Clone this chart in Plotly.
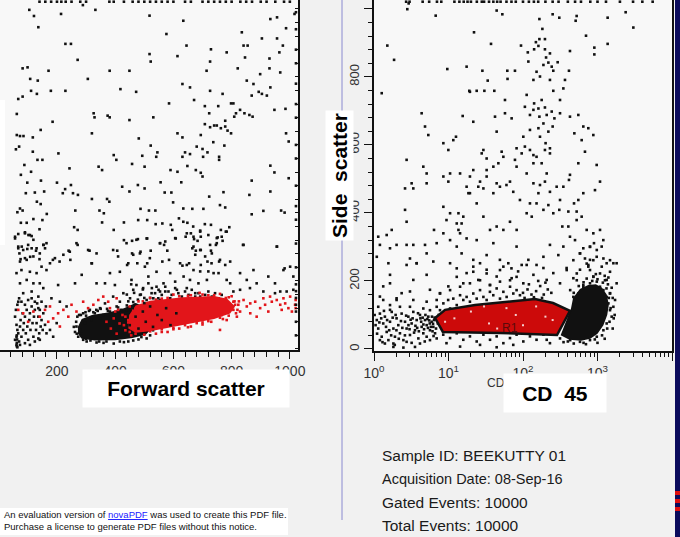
import plotly.graph_objects as go

# ---------------- left panel : forward scatter (x) vs side scatter (y) ----------------
# sparse events, upper part of the plot (FSC, SSC)
left_upper = [(105,997),(121,979),(214,985),(332,997),(289,1011),(518,980),(634,965),(933,970),(956,975),(1016,985),(987,943),(136,946),(576,926),(835,931),(904,913),(956,913),(229,897),(248,897),(645,892),(729,881),(841,892),(855,892),(976,892),(964,872),(518,867),(522,845),(783,872),(271,850),(614,861),(726,845),(846,857),(930,854),(82,825),(99,828),(171,818),(381,818),(449,818),(714,818),(821,825),(898,808),(930,825),(967,813),(108,794),(134,789),(306,794),(631,779),(657,769),(852,789),(875,779),(933,769),(904,750),(893,756),(921,745),(869,745),(67,735),(82,742),(111,759),(131,750),(179,759),(229,759),(418,764),(472,756),(585,722),(671,732),(726,759),(769,750),(798,722),(806,722),(708,714),(723,693),(754,714),(829,703),(844,693),(861,688),(872,683),(947,703),(985,706),(809,683),(815,693),(62,691),(326,693),(329,681),(374,686),(381,681),(531,681),(449,673),(185,668),(778,671),(708,661),(726,652),(740,657),(749,657),(763,649),(778,654),(786,642),(798,634),(694,629),(614,634),(631,622),(62,629),(73,626),(85,626),(117,622),(144,644),(320,634),(481,619),(987,634),(996,610),(70,595),(59,587),(117,580),(133,556),(150,556),(205,575),(395,570),(404,556),(522,598),(545,578),(541,565),(493,568),(458,544),(501,536),(631,565),(640,578),(657,573),(680,595),(700,588),(717,578),(737,608),(775,598),(757,565),(757,556),(702,565),(88,541),(76,512),(111,521),(243,531),(343,536),(355,526),(590,526),(614,521),(648,538),(677,526),(694,518),(700,507),(869,495),(933,539),(947,519),(996,502),(98,489),(145,495),(200,489),(248,482),(228,470),(255,458),(220,458),(93,458),(124,460),(156,463),(272,453),(320,441),(372,441),(380,433),(424,477),(449,463),(478,482),(501,472),(556,490),(570,460),(593,460),(627,490),(723,448),(772,461),(861,453),(933,463),(73,413),(82,407),(64,402),(131,433),(144,426),(165,397),(263,407),(346,407),(361,399),(487,412),(516,407),(538,407),(599,431),(634,413),(665,412),(703,412),(760,423),(778,416),(869,396),(909,406),(970,407),(982,401),(76,371),(96,371),(119,382),(150,379),(259,358),(271,350),(355,372),(395,350),(430,372),(479,379),(510,379),(539,367),(562,369),(591,365),(596,350),(619,384),(634,374),(648,371),(668,360),(692,348),(708,367),(729,365),(763,350),(780,345),(792,358),(56,325),(67,338),(90,343),(102,335),(113,332),(140,352),(430,320),(458,318),(478,323),(510,325),(554,311),(568,306),(608,325),(642,330),(660,340),(671,323),(683,318),(694,330),(752,328),(769,318),(839,306),(956,301),(67,296),(79,301),(98,294),(113,296),(128,289),(154,306),(159,296),(240,289),(271,306),(312,289),(407,289),(458,281),(487,286),(522,289),(579,289),(665,296),(677,289),(694,291),(729,289),(746,306),(71,281),(75,264),(90,267),(108,271),(140,264),(186,262),(209,257),(246,262),(320,252),(441,247),(476,252),(510,252),(562,257),(585,262),(631,245),(654,252),(694,247),(717,257),(731,252),(757,257),(982,237)]

# sparse events, lower part
left_lower = [(56,330),(90,340),(107,335),(119,321),(67,301),(84,291),(101,306),(130,296),(153,306),(164,311),(141,281),(119,272),(96,262),(73,257),(61,223),(78,232),(107,227),(130,223),(147,242),(164,232),(176,252),(73,193),(96,203),(119,193),(141,193),(153,179),(84,164),(113,169),(136,154),(67,139),(193,267),(222,277),(267,311),(244,286),(307,291),(336,281),(319,252),(285,218),(262,193),(336,193),(204,188),(210,139),(233,125),(181,149),(393,291),(410,272),(382,223),(416,227),(445,252),(439,311),(473,321),(508,325),(462,277),(485,281),(519,267),(502,242),(542,227),(456,203),(514,213),(365,193),(399,188),
              (554,311),(572,316),(606,326),(646,340),(669,330),(692,345),(720,335),(749,326),(766,330),(783,345),(669,301),(692,291),(726,306),(749,311),(675,277),(709,272),(732,281),(760,262),(795,257),(778,247),(623,252),(646,247),(669,232),(692,228),(720,228),(738,223),(755,223),(635,213),(657,203),(686,193),(715,203),(589,223),(566,193),(606,198),(783,203),(795,193),(829,223),(841,306),(875,232),(852,203),(886,193),(926,213),(949,193),(955,301),(978,232),(1001,242),(1012,213),(949,164),(967,169),(989,169),(1012,174),(909,169),(863,179),(829,174),(806,169),(572,169),(612,174),(646,179),(675,164)]

# column of small events at low forward scatter
left_column = [(56,27),(61,36),(61,12),(64,56),(67,46),(70,22),(73,66),(75,85),(78,36),(82,105),(84,56),(86,76),(90,95),(93,46),(96,115),(98,66),(101,27),(105,85),(107,105),(109,56),(113,125),(116,76),(119,36),(121,95),(124,115),(128,56),(130,76),(132,134),(136,95),(139,46),(141,115),(144,66),(147,85),(151,56),(153,105),(159,71),(162,125),(56,95),(59,115),(64,130),(70,149),(78,139),(90,130),(101,144),(113,149),(124,139),(136,120),(147,139),(61,71),(73,12),(90,17),(107,12),(124,22),(136,31),(164,46),(176,56),(187,36),(199,76),(141,27),
               (62,8),(62,18),(63,28),(62,40),(64,5)]

# black events just above / around the dense lymphocyte cloud
left_fringe = [(526,179),(537,164),(549,174),(560,159),(572,183),(583,169),(594,159),(606,179),(617,164),(629,154),(640,169),(652,159),(663,174),(675,154),(686,164),(697,149),(709,159),(720,169),(732,154),(743,164),(755,149),(766,159),(778,144),(531,149),(554,144),(589,149),(623,144),(657,146),(692,154),(726,144),
               (348,120),(365,134),(382,110),(393,154),(405,125),(416,139),(428,164),(439,115),(451,149),(462,174),(468,130),(473,188),(485,159),(491,115),(496,179),(508,144),(514,193),(525,164),(531,125),(542,183),(548,149),(554,169),(456,100),(422,100),(388,95),(359,100),(330,105),(313,115),
               (279,56),(273,36),(290,27),(285,46),(302,22),(336,19),(370,22),(416,22),(462,25),(508,31),(267,66),(296,76),(319,85),(348,90),
               (262,50),(258,65),(270,95),(290,105),(310,112),(350,118),(300,30),(360,18),(430,20),(490,35),(530,55),(545,85),(548,110),(520,150),(495,175),(455,190),(440,160),
               (266,80),(268,45),(282,100),(300,98),(325,108),(340,112),(375,112),(395,105),(420,115),(445,140),(465,165),(488,160),(505,130),(535,95),(538,68),(520,40),(480,28),(445,22),(395,16),(345,22),(315,25),(285,38),
               (478,145),(462,138),(500,150),(512,120),(440,128),(410,122),(372,118),(335,115),(298,108),(276,100)]

# dense black core (outline of the cloud)
blob_fsc = [272, 285, 330, 400, 460, 505, 525, 520, 500, 470, 430, 380, 320, 285, 272]
blob_ssc = [45, 30, 25, 26, 32, 42, 60, 95, 125, 135, 120, 108, 100, 88, 65]

# dense red core (gated events)
red_fsc = [445, 470, 520, 633, 740, 795, 812, 785, 740, 633, 520, 470, 448]
red_ssc = [60, 48, 52, 70, 88, 104, 125, 148, 156, 152, 142, 128, 100]

# red gated events spread around the core
left_red = [(159,115),(176,125),(187,90),(204,105),(222,115),(239,95),(250,130),(267,110),(290,139),(307,120),(325,130),(342,144),(210,66),(170,80),(141,95),(119,110),(84,105),(67,115),(101,80),(359,154),(376,139),(405,149),(410,115),(382,120),
            (385,60),(395,90),(405,45),(415,75),(425,100),(435,55),(445,85),(455,40),(400,110),(370,80),
            (520,52),(560,58),(600,62),(640,70),(680,76),(720,82),(760,92),(700,72),(660,66),(580,50),(540,45),(620,60),(760,56),
            (540,145),(580,150),(620,155),(660,158),(700,160),(740,158),(780,150),(810,140),
            (430,70),(435,95),(450,50),(500,42),(600,58),(700,78),(790,98),(820,115),(825,140),(800,155),(760,162),(690,165),(600,160),(520,150),(480,140),(450,125),
            (470,45),(560,50),(650,64),(730,80),(770,88),(815,105),(812,130),(790,152),(720,158),(650,156),(560,148),(495,140),(462,115),(445,78),
            (806,139),(823,130),(841,144),(852,125),(864,134),(881,139),(898,120),(915,130),(926,110),(938,139),(955,144),(967,130),(972,115),(984,134),(995,120),(1007,110),(1018,130),(1020,144),(1020,120),(864,105),(886,95),(829,110),(806,115),(818,95),(783,85),(766,100),(909,149),(932,154),(1001,154),(978,149)]

# black events sitting on the red core
left_mixed = [(450,70),(470,95),(480,60),(495,110),(505,80),(520,125),(530,65),(545,100),(560,85),(575,120),(590,70),(610,105),(500,135),(460,120)]

# saturated events on the top and right edges
top_fsc = [140,160,180,200,215,230,250,280,300,380,395,430,460,480,500,520,540,560,580,600,640,660,700,720,740,760,780,800,830,850,870,900,920,950,980,1000]
right_ssc = [40,80,130,170,240,310,380,420,480,560,600,680,720,780,840,880,940,990,110,150,190]

# ---------------- right panel : CD45 (log x) vs side scatter (y) ----------------
cd_upper = [(1.51,892),(1.86,850),(1.27,752),(2.8,999),(2.92,1016),(6.73,980),(9.64,823),(17.5,830),(28.5,818),(22.0,931),(37.2,897),(44.3,995),(52.8,984),(94,892),(116,872),(166,970),(250,984),(307,974),(525,979),(509,965),(1368,974),(2388,990),(3027,945),(701,921),(1368,897),(907,886),(907,866),(427,876),(166,911),(149,902),(197,911),(182,941),(161,891),(141,881),(197,881),(230,869),(204,857),(219,842),(243,830),(292,843),(255,818),(188,835),(152,815),(138,791),(169,801),(230,791),(255,759),(314,732),(366,791),(414,818),(348,766),(118,845),(61.6,818),(78,818),(62,794),(33.6,789),(19,759),(23.9,759),(30.3,759),(41.2,759),(57.3,732),(112,747),(141,722),(106,712),(124,688),(138,703),(161,707),(178,732),(166,683),(197,710),(208,688),(243,698),(264,678),(314,693),(250,654),(188,663),(219,639),(161,649),(169,624),(201,605),(230,590),(230,575),(197,585),(152,565),(138,546),(178,546),(208,516),(197,492),(169,482),(138,487),(161,458),(230,462),(283,477),(348,477),(427,512),(553,546),(679,580),(613,614),(645,654),(753,649),(553,688),(427,683),(489,634),(879,629),(1081,492),(975,541),(925,467),(645,458),(414,497),(484,428),(406,404),(553,438),(525,404),(525,379),(613,389),(314,438),(307,409),(337,360),(406,360),(427,330),(499,320),(716,350),(879,340),(1081,350),(1197,320),(897,311),(793,301),(645,296),(582,281),(679,266),(793,262),(975,271),(753,242),(1327,252),(1807,252),(1138,301),(348,301),(298,276),(230,306),(188,271),(152,247),(118,262),(96,247),(82,301),(63.5,252),(49,262),(40,311),(32.5,276),(26.5,252),(21.5,262),(15,281),(12.9,301),(10.5,252),(6.25,257),(3.74,252),(3.04,266),(1.56,252),(2.01,306),(2.74,306),(5.09,281),(6.94,311),(8.53,340),(10.5,320),(14.3,340),(17.5,325),(23.9,320),(29.4,389),(36.1,350),(44.3,360),(54.5,350),(66.9,374),(82.2,350),(112,399),(124,428),(91,438),(74,462),(60,482),(49,477),(40,458),(29.4,472),(23.9,428),(19.4,458),(15.8,389),(12.9,369),(10.5,399),(8.53,418),(9.4,379),(6.39,350),(4.84,306),(3.37,306),(2.61,409),(2.74,374),(1.73,350),(1.48,335),(1.14,330),(1.2,306),(1.09,271),(1.64,296),(3.37,472),(3.2,487),(4.59,536),(5.09,516),(5.09,487),(2.74,556),(4.84,654),(5.36,629),(4.36,693),(8.53,605),(9.95,585),(11.6,614),(12.6,624),(15.5,685),(19.4,756),(21.5,668),(27.9,575),(32.5,526),(40,536),(46.7,546),(32.5,507),(44.3,487),(25.1,477),(17.5,477),(18.5,458),(13.6,399),(15,369),(13.6,350),(2.61,472),(8.53,507),(9.95,492),(10.5,516),(14.3,516),(19.4,507),(21.5,526),(26.5,492),(82,590),(96,575),(78,556),(54.5,565),(66.9,492),(44.3,639),(51.7,580),(29.4,585),(32.5,560),(42.1,683),(57.3,693),(70.4,678),(101,624),(124,644),(106,595),(124,585),(138,570),(82,536),(112,516),(152,428),(131,389),(188,409),(219,423),(255,399)]

cd_lower = [(1.64,218),(1.64,193),(2.74,247),(3.37,203),(3.74,252),(5.09,218),(5.64,174),(7.69,164),(9.95,184),(12.9,237),(15.8,193),(17.5,223),(21.5,242),(25.1,203),(32.5,233),(36.1,188),(44.3,213),(54.5,242),(70.4,208),(86,228),(101,193),(112,247),(138,218),(188,238),(208,203),(255,223),(314,193),(385,238),(474,208),(582,233),(645,188),(753,247),(879,213),(1081,174),(1327,203),(1633,252),(1472,164),(1.2,154),(2.01,144),(3.04,169),(1.64,115),(2.35,164),(1.33,184)]

# low CD45 / low SSC cloud (debris, left of the gate)
cd_left = [(1.09,85),(1.14,60),(1.2,104),(1.27,36),(1.33,75),(1.4,95),(1.48,50),(1.56,26),(1.64,80),(1.73,109),(1.82,60),(1.91,36),(2.01,90),(2.12,70),(2.23,46),(2.35,104),(2.48,26),(2.61,80),(2.74,60),(2.89,95),(3.04,41),(3.2,75),(3.37,109),(3.55,55),(3.74,85),(3.94,31),(4.14,100),(4.36,65),(4.59,46),(4.84,85),(5.09,70),(5.36,95),(5.64,55),(5.94,80),(6.26,65),(6.6,46),(1.2,26),(1.4,16),(1.82,16),(2.74,21),(4.14,16),(5.09,36),(2.23,124),(1.64,129),(3.04,124),(4.59,119),(5.64,114),(1.14,124),(1.33,144),(2.01,149),(3.37,144),(5.09,139),(6.94,124),(7.69,114),(8.1,85),(8.53,100),(9.45,109),(10.5,119),(11.6,114),(1.82,6),(2.48,4),(3.55,6),(5.64,26),(6.94,31),
           (1.05,70),(1.1,45),(1.25,90),(1.45,65),(1.7,40),(1.95,100),(2.3,82),(2.6,40),(2.9,70),(3.3,90),(3.6,68),(3.9,105),(4.3,80),(4.7,58),(5.2,88),(5.6,75),(6.0,95),(6.4,85),(6.8,60),(7.2,75),(4.0,52),(4.5,92),(5.3,62),(6.1,52),(3.0,58),(2.0,55),(1.5,85),
           (1.02,100),(1.18,78),(1.36,112),(1.6,55),(1.78,92),(2.15,30),(2.4,62),(2.7,98),(3.1,86),(3.45,48),(3.8,62),(4.2,90),(4.6,72),(4.9,100),(5.5,84),(5.8,65),(6.2,74),(6.5,92),(7.0,88),(7.4,100),(1.3,20),(1.9,12),(3.2,18),(4.8,22),(6.3,38)]

# events along the top edge of the gate
cd_band = [(8.53,134),(9.9,144),(11.6,148),(12.9,129),(14.3,158),(15.8,144),(17.5,153),(19.4,139),(21.5,163),(23.9,148),(26.5,173),(29.4,153),(32.5,144),(36,168),(39.9,158),(44.3,178),(49.1,148),(54.5,168),(60.3,153),(67,183),(74.1,163),(82,173),(91,158),(14.3,183),(19.4,193),(26.5,202),(36,188),(49.1,198),(67,202),(82,212),(10.5,173),(7.69,163),(6.94,144),(12.9,212),(21.5,227),(32.5,222),(49.1,232),(70,237),
           (100,165),(115,175),(130,160),(150,170),(170,185),(190,160),(215,175),(240,165),(120,190),(160,200),(200,195),(105,150),(140,152),(180,150)]

# events under the gate
cd_below = [(8.5,42),(10.5,32),(12.9,46),(15.8,27),(19.4,37),(23.9,22),(29.4,42),(36.1,27),(44.3,37),(54.5,17),(66.9,32),(82,42),(101,22),(124,37),(152,27),(188,42),(230,17),(9.4,17),(26.5,12),(74,12),(208,27),(14.3,7),(44.3,5)]

# dense granulocyte-side cloud right of the gate
gran_cd = [320, 420, 600, 800, 1000, 1200, 1350, 1420, 1330, 1150, 950, 750, 580, 470, 440]
gran_ssc = [40, 27, 24, 30, 45, 70, 100, 130, 160, 180, 190, 188, 176, 150, 118]
gran_pts = [(793,193),(978,198),(1081,183),(1200,173),(1327,153),(1400,134),(1472,114),(1550,95),(1327,75),(1200,55),(978,36),(793,26),(582,21),(430,26),(314,31),(879,212),(716,207),(1081,222),(1260,202),(1472,163),(1633,124),(1720,144),(527,202),(645,183),(554,163),(474,153),(430,173),(527,222),(793,232),(1140,242),(1472,227),(1807,193),(879,261),(716,251),(582,281),(978,291),(1200,266),(793,300),(474,261),(386,232),(1472,261),
            (1600,60),(1700,100),(1550,180),(1400,210),(1250,30),(1000,18),(700,14),(480,16),(350,20),
            (1450,80),(1500,120),(1420,150),(1320,178),(1180,195),(1000,205),(850,200),(650,196),(560,185),(480,165),(1350,60),(1150,40),(920,28),(650,18),(400,22),(1600,150),(1650,90),(1380,190),(1250,215),(950,220)]

# gate R1 outline
gate_cd = [6.6, 9.0, 22.7, 91, 145, 253, 427, 286, 49, 8.4, 6.6]
gate_ssc = [91, 115, 129, 141, 147, 135, 112, 41, 47, 50, 91]
gate_gaps = [(12,90),(20,110),(35,75),(60,120),(100,70),(150,125),(200,95),(30,125),(9,80),(80,100),(250,85),(45,60)]

cd_top = [2.7,3.0,4.5,5.5,7,8,12,14,16,18,20,24,28,30,35,40,45,50,60,70,80,100,120,140,160,200,250,300,400,500,600,800,1000,1300,2000,3000,4000,5500]

sample_lines = ["Sample ID: BEEKUTTY 01", "Acquisition Date: 08-Sep-16", "Gated Events: 10000", "Total Events: 10000"]

BLACK = "#111111"
RED = "#e2151a"
NARROW = "Liberation Sans Narrow, Liberation Sans, Arial"


def xs(pairs):
    return [p[0] for p in pairs]


def ys(pairs):
    return [p[1] for p in pairs]


def dots(x, y, color, ax="", size=2.6):
    return go.Scatter(x=x, y=y, mode="markers", xaxis="x" + ax, yaxis="y" + ax,
                      marker=dict(color=color, size=size, symbol="square", line=dict(width=0)),
                      hoverinfo="skip")


def poly(x, y, color, ax="", line_color=None, line_width=0):
    return go.Scatter(x=x, y=y, mode="lines", fill="toself", fillcolor=color, xaxis="x" + ax, yaxis="y" + ax,
                      line=dict(color=line_color or color, width=line_width), hoverinfo="skip")


fig = go.Figure()

# left panel
fig.add_trace(dots(xs(left_upper), ys(left_upper), BLACK))
fig.add_trace(dots(xs(left_lower), ys(left_lower), BLACK))
fig.add_trace(dots(xs(left_column), ys(left_column), BLACK))
fig.add_trace(poly(blob_fsc, blob_ssc, BLACK))
fig.add_trace(dots(xs(left_fringe), ys(left_fringe), BLACK))
fig.add_trace(poly(red_fsc, red_ssc, RED))
fig.add_trace(dots(xs(left_red), ys(left_red), RED))
fig.add_trace(dots(xs(left_mixed), ys(left_mixed), BLACK))
fig.add_trace(dots(top_fsc, [1021] * len(top_fsc), BLACK))
fig.add_trace(dots([1021] * len(right_ssc), right_ssc, BLACK))

# right panel
fig.add_trace(dots(xs(cd_upper), ys(cd_upper), BLACK, "2"))
fig.add_trace(dots(xs(cd_lower), ys(cd_lower), BLACK, "2"))
fig.add_trace(dots(xs(cd_left), ys(cd_left), BLACK, "2"))
fig.add_trace(dots(xs(cd_band), ys(cd_band), BLACK, "2"))
fig.add_trace(dots(xs(cd_below), ys(cd_below), BLACK, "2"))
fig.add_trace(poly(gran_cd, gran_ssc, BLACK, "2"))
fig.add_trace(dots(xs(gran_pts), ys(gran_pts), BLACK, "2"))
fig.add_trace(poly(gate_cd, gate_ssc, "#cc0a0a", "2", line_color="#111111", line_width=2.5))
fig.add_trace(dots(xs(gate_gaps), ys(gate_gaps), "#f4d0d0", "2", size=2))
fig.add_trace(dots(cd_top, [1021] * len(cd_top), BLACK, "2"))

axis_common = dict(showgrid=False, zeroline=False, linecolor="#111", color="#333", automargin=False)

fig.update_layout(
    width=680, height=537,
    margin=dict(l=0, r=0, t=0, b=0, autoexpand=False),
    paper_bgcolor="#f1f1f1", plot_bgcolor="#f8f8f8",
    showlegend=False,
    font=dict(family="Liberation Sans, Arial", color="#222"),
    xaxis=dict(axis_common, domain=[0, 298 / 680], range=[4.3, 1028], anchor="y",
               showline=True, linewidth=1.5, ticks="outside", ticklen=7, tickcolor="#111",
               tick0=0, dtick=200, tickfont=dict(size=14, family=NARROW, color="#333"),
               minor=dict(ticks="outside", dtick=40, ticklen=5, tickcolor="#111")),
    yaxis=dict(axis_common, domain=[187 / 537, 1], range=[-3, 1026], anchor="x", side="right",
               showline=True, linewidth=2, ticks="inside", ticklen=3, tickcolor="#111",
               dtick=40, showticklabels=False),
    xaxis2=dict(axis_common, type="log", domain=[374 / 680, 672 / 680], range=[0, 4], anchor="y2",
                showline=True, linewidth=2, ticks="outside", ticklen=8, tickcolor="#111",
                tickvals=[1, 10, 100, 1000, 10000],
                ticktext=["10<sup>0</sup>", "10<sup>1</sup>", "10<sup>2</sup>", "10<sup>3</sup>", "10<sup>4</sup>"],
                tickfont=dict(size=14, family=NARROW, color="#333"),
                minor=dict(ticks="outside", ticklen=4, tickcolor="#111",
                           tickvals=[m * 10 ** d for d in range(4) for m in range(2, 10)])),
    yaxis2=dict(axis_common, domain=[186 / 537, 1], range=[-6, 1026], anchor="x2",
                showline=True, mirror=True, linewidth=2, ticks="outside", ticklen=8, tickcolor="#111",
                dtick=200, tickangle=-90, tickfont=dict(size=13, family=NARROW, color="#333"),
                minor=dict(ticks="outside", dtick=40, ticklen=4, tickcolor="#111")),
)

shapes = [
    dict(type="rect", xref="paper", yref="paper", x0=0, x1=5 / 680, y0=1 - 245 / 537, y1=1 - 100 / 537,
         fillcolor="white", line=dict(width=0), layer="below"),
    dict(type="line", xref="paper", yref="paper", x0=342 / 680, x1=342 / 680, y0=1 - 520 / 537, y1=1,
         line=dict(color="#8a8ad0", width=1)),
    dict(type="rect", xref="paper", yref="paper", x0=0, x1=288 / 680, y0=1 - 535 / 537, y1=1 - 508 / 537,
         fillcolor="white", line=dict(width=0)),
    dict(type="rect", xref="paper", yref="paper", x0=675 / 680, x1=1, y0=0, y1=1,
         fillcolor="#0b0b5c", line=dict(width=0)),
]
for top in (491, 499, 507):
    shapes.append(dict(type="rect", xref="paper", yref="paper", x0=675 / 680, x1=1,
                       y0=1 - (top + 4) / 537, y1=1 - top / 537, fillcolor="#e01010", line=dict(width=0)))
fig.update_layout(shapes=shapes)

ann = [
    dict(text="<b>Forward scatter</b>", x=186 / 680, y=1 - 388 / 537, font=dict(size=21, color="#000"),
         bgcolor="white", width=204, height=35),
    dict(text="<b>Side  scatter</b>", x=339 / 680, y=1 - 176 / 537, textangle=-90,
         font=dict(size=21, color="#000"), bgcolor="white", borderpad=2),
    dict(text="CD", x=496 / 680, y=1 - 383 / 537, font=dict(size=12, family=NARROW, color="#333")),
    dict(text="<b>CD\u00a0 45</b>", x=555 / 680, y=1 - 393 / 537, font=dict(size=21, color="#000"),
         bgcolor="white", width=100, height=36),
    dict(text="R1", x=1.83, y=62, xref="x2", yref="y2",
         font=dict(size=12, family=NARROW, color="#5a0a0a")),
    dict(text="An evaluation version of <span style='color:#1a1aff;text-decoration:underline'>novaPDF</span>"
              " was used to create this PDF file.<br>Purchase a license to generate PDF files without this notice.",
         x=2 / 680, y=1 - 520 / 537, xanchor="left", align="left", font=dict(size=9.5, color="#111")),
]
for i, line in enumerate(sample_lines):
    ann.append(dict(text=line, x=380 / 680, y=1 - (455 + 23.5 * i) / 537, xanchor="left",
                    font=dict(size=15.5 if i != 1 else 14.5, family=NARROW, color="#1a1a1a")))
for a in ann:
    a.setdefault("xref", "paper")
    a.setdefault("yref", "paper")
    a.setdefault("xanchor", "center")
    a.setdefault("yanchor", "middle")
    a.setdefault("showarrow", False)
fig.update_layout(annotations=ann)

# the page body has a default 8px margin; drop it so the figure fills the window
fig.write_html("out.html", config={"displayModeBar": False},
               post_script="document.body.style.margin='0';")
